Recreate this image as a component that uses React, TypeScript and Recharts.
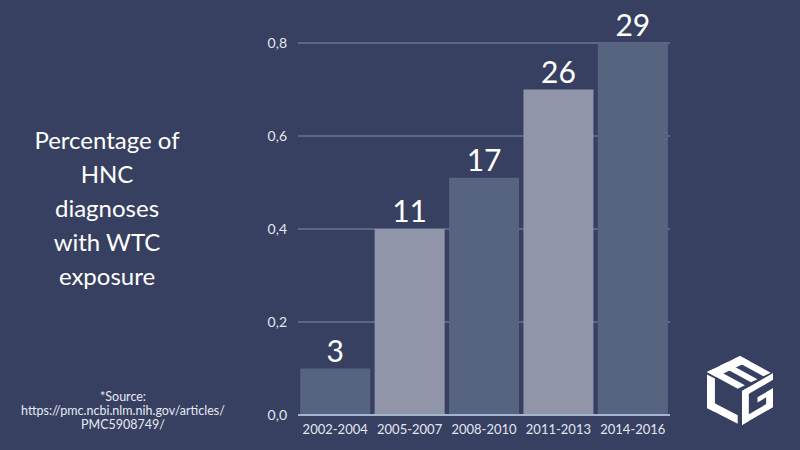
import { BarChart, Bar, XAxis, YAxis, CartesianGrid, Cell, LabelList } from "recharts";

const categories = ["2002-2004", "2005-2007", "2008-2010", "2011-2013", "2014-2016"];
const shares = [0.1, 0.4, 0.51, 0.7, 0.8];
const counts = [3, 11, 17, 26, 29];
const yTicks = [0, 0.2, 0.4, 0.6, 0.8];
const titleLines = ["Percentage of", "HNC", "diagnoses", "with WTC", "exposure"];
const sourceLines = ["*Source:", "https://pmc.ncbi.nlm.nih.gov/articles/", "PMC5908749/"];

const data = categories.map((period, i) => ({ period, share: shares[i], count: counts[i] }));

const BG = "#374061";
const DARK = "#566480";
const LIGHT = "#9195aa";
const FONT = "Lato, 'Open Sans', sans-serif";

type Pt = [number, number];

// face helper: origin + s*u + t*v
function face(o: Pt, a: Pt, b: Pt) {
  const u: Pt = [a[0] - o[0], a[1] - o[1]];
  const v: Pt = [b[0] - o[0], b[1] - o[1]];
  return (rects: number[][]) =>
    rects.map(([s0, s1, t0, t1]) =>
      [
        [s0, t0],
        [s1, t0],
        [s1, t1],
        [s0, t1],
      ]
        .map(([s, t]) => `${o[0] + s * u[0] + t * v[0]},${o[1] + s * u[1] + t * v[1]}`)
        .join(" ")
    );
}

function Logo() {
  const T: Pt = [740, 356];
  const TL: Pt = [707, 372];
  const BL: Pt = [707, 408];
  const B: Pt = [740, 425];
  const TR: Pt = [773, 372];
  const C: Pt = [740, 390];
  const left = face(BL, B, TL)([
    [0, 0.93, 0, 0.24],
    [0, 0.24, 0, 0.93],
  ]);
  const top = face(TL, T, C)([
    [0, 1, 0, 0.28],
    [0, 0.22, 0, 0.93],
    [0.4, 0.6, 0, 0.93],
    [0.78, 1, 0, 0.93],
  ]);
  const right = face([C[0] + 2, C[1] + 1], [TR[0], TR[1] + 1], [B[0] + 2, B[1]])([
    [0, 0.22, 0, 1],
    [0, 1, 0, 0.2],
    [0, 1, 0.8, 1],
    [0.78, 1, 0.45, 1],
    [0.5, 1, 0.45, 0.6],
  ]);
  return (
    <svg width={800} height={450} style={{ position: "absolute", left: 0, top: 0, pointerEvents: "none" }}>
      {[...left, ...top, ...right].map((p, i) => (
        <polygon key={i} points={p} fill="#ffffff" />
      ))}
    </svg>
  );
}

export default function App() {
  return (
    <div style={{ position: "fixed", left: 0, top: 0, width: 800, height: 450, background: BG, fontFamily: FONT }}>
      <div
        style={{
          position: "absolute",
          left: 17,
          top: 123,
          width: 180,
          textAlign: "center",
          color: "#ffffff",
          fontSize: 24,
          lineHeight: "34px",
        }}
      >
        {titleLines.map((l) => (
          <div key={l}>{l}</div>
        ))}
      </div>
      <div
        style={{
          position: "absolute",
          left: 3,
          top: 390,
          width: 240,
          textAlign: "center",
          color: "#e6e9f2",
          fontSize: 12.5,
          lineHeight: "14px",
        }}
      >
        {sourceLines.map((l) => (
          <div key={l}>{l}</div>
        ))}
      </div>
      <BarChart
        width={800}
        height={450}
        data={data}
        margin={{ top: 43, right: 130, bottom: 5, left: 258 }}
        barCategoryGap="3%"
      >
        <CartesianGrid vertical={false} stroke="#6a7596" strokeWidth={1.5} />
        <XAxis
          dataKey="period"
          axisLine={{ stroke: "#a6b5cf", strokeWidth: 2 }}
          tickLine={false}
          tickMargin={4}
          height={30}
          interval={0}
          tick={{ fill: "#e3e7f1", fontSize: 13, fontFamily: FONT }}
        />
        <YAxis
          domain={[0, 0.8]}
          ticks={yTicks}
          axisLine={false}
          tickLine={false}
          width={40}
          tickMargin={5}
          tickFormatter={(v: number) => v.toFixed(1).replace(".", ",")}
          tick={{ fill: "#e3e7f1", fontSize: 14, fontFamily: FONT }}
        />
        <Bar dataKey="share" isAnimationActive={false}>
          {data.map((d, i) => (
            <Cell key={d.period} fill={i % 2 === 0 ? DARK : LIGHT} />
          ))}
          <LabelList dataKey="count" position="top" offset={7} fill="#ffffff" fontSize={30} fontFamily={FONT} />
        </Bar>
      </BarChart>
      <Logo />
    </div>
  );
}
